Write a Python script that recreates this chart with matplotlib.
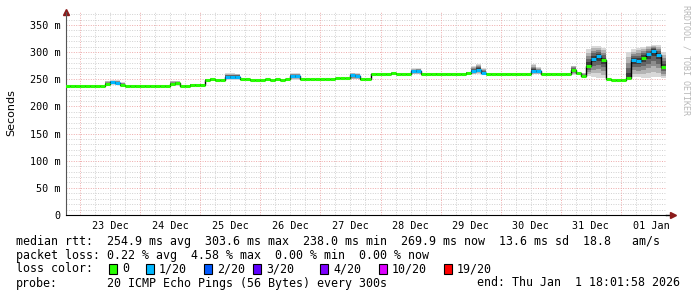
import numpy as np
import matplotlib.pyplot as plt
from matplotlib.patches import Rectangle

# ------------------------------------------------------------
# data: one value per 2-hour step, starting 22 Dec 18:00
# ------------------------------------------------------------
median_ms = [
    238, 238, 238, 238, 238, 238, 238, 238, 242, 245,
    244, 240, 238, 238, 238, 238, 238, 238, 238, 238,
    238, 242, 243, 237, 238, 240, 240, 240, 249, 250.5,
    248.5, 248.5, 255, 255, 255, 250.5, 250, 248.5, 248.5, 248.5,
    250, 249, 250, 249, 250, 256, 256, 250, 250, 250,
    250, 250, 250, 250, 252, 252, 252, 257, 256, 250,
    250, 260, 260, 260, 260, 261, 260, 260, 260, 265,
    266, 260, 260, 260, 260, 260, 260, 260, 260, 260,
    262, 266, 268, 262, 260, 260, 260, 260, 260, 260,
    260, 260, 260, 266, 265, 260, 260, 260, 260, 260,
    260, 268, 262, 256, 275, 288, 292, 285, 250, 248.5,
    248.5, 248.5, 252, 285, 284, 290, 296, 303, 295, 272,
]
# lost pings out of 20
loss = [
    0, 0, 0, 0, 0, 0, 0, 0, 0, 1,
    1, 0, 0, 0, 0, 0, 0, 0, 0, 0,
    0, 0, 0, 0, 0, 0, 0, 0, 0, 0,
    0, 0, 1, 1, 1, 0, 0, 0, 0, 0,
    0, 0, 0, 0, 0, 1, 1, 0, 0, 0,
    0, 0, 0, 0, 0, 0, 0, 1, 1, 0,
    0, 0, 0, 0, 0, 0, 0, 0, 0, 1,
    1, 0, 0, 0, 0, 0, 0, 0, 0, 0,
    0, 1, 1, 1, 0, 0, 0, 0, 0, 0,
    0, 0, 0, 1, 1, 0, 0, 0, 0, 0,
    0, 0, 0, 0, 0, 1, 1, 0, 0, 0,
    0, 0, 0, 1, 1, 0, 1, 1, 1, 0,
]
ping_max = [
    239, 239, 239, 239, 239, 239, 239, 239, 247, 248,
    248, 245, 239, 239, 239, 239, 239, 239, 239, 239,
    239, 247, 247, 239, 239, 241, 241, 241, 251, 252,
    250, 250, 261, 261, 260, 252, 251, 250, 250, 250,
    251, 250, 251, 250, 251, 261, 261, 251, 251, 251,
    251, 251, 251, 251, 253, 253, 253, 262, 261, 251,
    251, 261, 261, 261, 261, 263, 261, 261, 261, 270,
    270, 261, 261, 261, 262, 261, 261, 261, 261, 261,
    264, 274, 278, 270, 261, 261, 261, 261, 261, 261,
    261, 261, 261, 278, 272, 261, 261, 261, 261, 261,
    261, 275, 264, 262, 305, 312, 312, 308, 252, 250,
    250, 250, 300, 305, 308, 310, 312, 314, 313, 300,
]
ping_min = [
    237, 237, 237, 237, 237, 237, 237, 237, 238, 240,
    240, 238, 237, 237, 237, 237, 237, 237, 237, 237,
    237, 238, 238, 236, 237, 239, 239, 239, 247, 249,
    247, 247, 249, 249, 249, 249, 249, 247, 247, 247,
    249, 248, 249, 248, 249, 249, 249, 249, 249, 249,
    249, 249, 249, 249, 251, 251, 251, 250, 250, 249,
    249, 259, 259, 259, 259, 259, 259, 259, 259, 259,
    259, 259, 259, 259, 259, 259, 259, 259, 259, 259,
    259, 259, 259, 259, 259, 259, 259, 259, 259, 259,
    259, 259, 259, 259, 259, 259, 259, 259, 259, 259,
    259, 258, 258, 254, 256, 254, 253, 252, 248, 247,
    247, 247, 250, 254, 254, 253, 253, 254, 254, 253,
]

day_labels = ['23 Dec', '24 Dec', '25 Dec', '26 Dec', '27 Dec',
              '28 Dec', '29 Dec', '30 Dec', '31 Dec', '01 Jan']
y_ticks = [0, 50, 100, 150, 200, 250, 300, 350]

loss_labels = ['0', '1/20', '2/20', '3/20', '4/20', '10/20', '19/20']
loss_colors = ['#26ff00', '#00b8ff', '#0059ff', '#5e00ff', '#7e00ff', '#dd00ff', '#ff0000']

# ------------------------------------------------------------
# figure
# ------------------------------------------------------------
W, H = 697, 297
fig = plt.figure(figsize=(W / 100, H / 100), dpi=100)
fig.patch.set_facecolor('white')
ax = fig.add_axes([66 / W, 82 / H, 600 / W, 203 / H])
ymax = 203 / (190 / 350)
ax.set_xlim(0.4, 240)
ax.set_ylim(0, ymax)

MONO = 'DejaVu Sans Mono'

# grid
for yv in range(10, int(ymax), 10):
    if yv % 50 == 0:
        ax.axhline(yv, color='#eeaaaa', lw=0.7, dashes=(1, 1.5), zorder=0)
    else:
        ax.axhline(yv, color='#d0d0d0', lw=0.7, dashes=(1, 1.5), zorder=0)
for xv in range(6, 240, 6):
    if (xv - 6) % 24 == 0:
        ax.axvline(xv, color='#eeaaaa', lw=0.7, dashes=(1, 1.5), zorder=0)
    else:
        ax.axvline(xv, color='#d0d0d0', lw=0.7, dashes=(1, 1.5), zorder=0)

# smoke
med = np.array(median_ms, dtype=float)
hi = np.array(ping_max, dtype=float)
lo = np.array(ping_min, dtype=float)
n = len(med)
edges = np.arange(0, 2 * n + 1, 2)


def ext(a):
    return np.append(a, a[-1])


shades = [(1.0, '#d8d8d8'), (0.8, '#b4b4b4'), (0.6, '#8c8c8c'),
          (0.4, '#646464'), (0.2, '#3c3c3c')]
for f, c in shades:
    ax.fill_between(edges, ext(med - (med - lo) * f), ext(med + (hi - med) * f),
                    step='post', color=c, lw=0, zorder=1)

# median line coloured by loss
ax.stairs(med, edges, baseline=None, color='black', lw=1.0, zorder=2)
for i in range(n):
    ax.hlines(med[i], edges[i], edges[i + 1], color=loss_colors[loss[i]], lw=2.2, zorder=3)

# axes styling
for s in ['top', 'right']:
    ax.spines[s].set_visible(False)
ax.spines['left'].set_color('#555555')
ax.spines['bottom'].set_color('black')
ax.plot([0], [1.0], marker='^', color='#8b1a1a', ms=4, transform=ax.transAxes, clip_on=False)
ax.plot([1.0, 1.012], [0, 0], color='black', lw=1, transform=ax.transAxes, clip_on=False)
ax.plot([1.012], [0], marker='>', color='#8b1a1a', ms=4, transform=ax.transAxes, clip_on=False)

ax.set_yticks(y_ticks, ['0' if v == 0 else f'{v} m' for v in y_ticks],
              fontfamily=MONO, fontsize=7.3)
ax.set_xticks([18 + 24 * k for k in range(len(day_labels))], day_labels,
              fontfamily=MONO, fontsize=7.3)
ax.tick_params(length=0, pad=4)

fig.text(11 / W, 1 - 113 / H, 'Seconds', rotation=90, ha='center', va='center', fontsize=8)
fig.text(686 / W, 1 - 5 / H, 'RRDTOOL / TOBI OETIKER', rotation=270, ha='center', va='top',
         fontfamily=MONO, fontsize=6, color='#b8b8b8')

# ------------------------------------------------------------
# legend text block
# ------------------------------------------------------------
fs = 8.4


def px_text(x, y, s, **kw):
    fig.text(x / W, 1 - y / H, s, va='center', fontfamily=MONO, fontsize=fs, **kw)


px_text(16, 241, 'median rtt:  254.9 ms avg  303.6 ms max  238.0 ms min  '
                 '269.9 ms now  13.6 ms sd  18.8   am/s')
px_text(16, 255, 'packet loss: 0.22 % avg  4.58 % max  0.00 % min  0.00 % now')
px_text(16, 269, 'loss color:')
box_x = [109, 146, 204, 253, 320, 379, 444]
for bx, lab, col in zip(box_x, loss_labels, loss_colors):
    fig.patches.append(Rectangle((bx / W, 1 - 274 / H), 8 / W, 10 / H, transform=fig.transFigure,
                                 facecolor=col, edgecolor='black', lw=0.8))
    px_text(bx + 13, 269, lab)
px_text(16, 283, 'probe:')
px_text(107, 283, '20 ICMP Echo Pings (56 Bytes) every 300s')
px_text(680, 283, 'end: Thu Jan  1 18:01:58 2026', ha='right')

fig.savefig('out.png', dpi=100)
